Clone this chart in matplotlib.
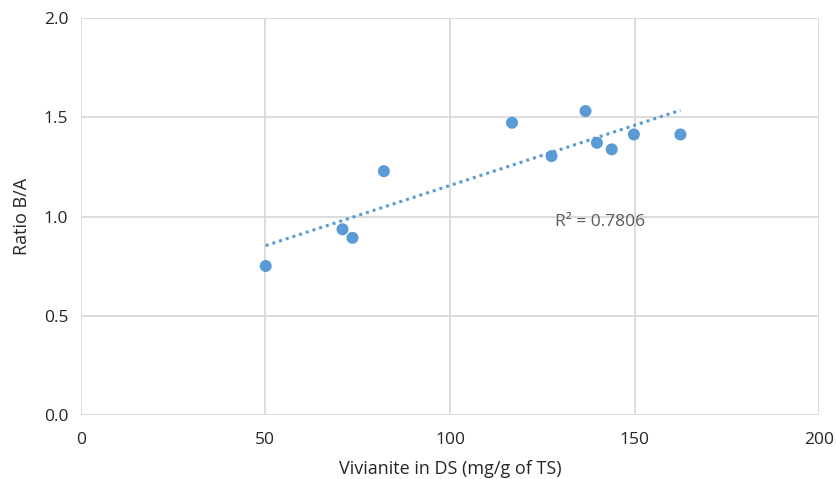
import numpy as np
import matplotlib
matplotlib.use("Agg")
import matplotlib.pyplot as plt

plt.rcParams['font.family'] = ['Open Sans', 'DejaVu Sans']

vivianite = [50.1, 70.9, 73.6, 82.1, 116.8, 127.5, 136.7, 139.8, 143.8, 149.8, 162.4]
ratio_ba = [0.751, 0.936, 0.893, 1.229, 1.473, 1.305, 1.532, 1.372, 1.339, 1.414, 1.414]
r2_label = "R² = 0.7806"
x_ticks = [0, 50, 100, 150, 200]
y_ticks = [0.0, 0.5, 1.0, 1.5, 2.0]

fig = plt.figure(figsize=(8.36, 4.79), dpi=100)
ax = fig.add_axes([0.0965, 0.1336, 0.8835, 0.8284])

blue = '#5B9BD5'
grid = '#D9D9D9'

x = np.array(vivianite)
y = np.array(ratio_ba)
m, b = np.polyfit(x, y, 1)
xs = np.array([x.min(), x.max()])
ax.plot(xs, m * xs + b, linestyle=(0, (1, 1.3)), color=blue, lw=2.2, zorder=2)
ax.scatter(x, y, s=75, color=blue, edgecolors='none', zorder=3)

ax.text(128.5, 0.975, r2_label, fontsize=12.5, color='#595959', va='center', ha='left')

ax.set_xlim(0, 200)
ax.set_ylim(0, 2.0)
ax.set_xticks(x_ticks)
ax.set_yticks(y_ticks)
ax.set_xticklabels([str(v) for v in x_ticks])
ax.set_yticklabels([f"{v:.1f}" for v in y_ticks])
ax.grid(True, color=grid, lw=1.3)
ax.set_axisbelow(True)
for s in ax.spines.values():
    s.set_visible(False)
ax.tick_params(length=0, labelsize=12.5, colors='#262626')
ax.tick_params(axis='x', pad=12)
ax.tick_params(axis='y', pad=9)
ax.set_xlabel("Vivianite in DS (mg/g of TS)", fontsize=13, color='#262626', labelpad=9)
ax.set_ylabel("Ratio B/A", fontsize=13, color='#262626', labelpad=9)

fig.savefig("out.png", dpi=100, facecolor='white')
